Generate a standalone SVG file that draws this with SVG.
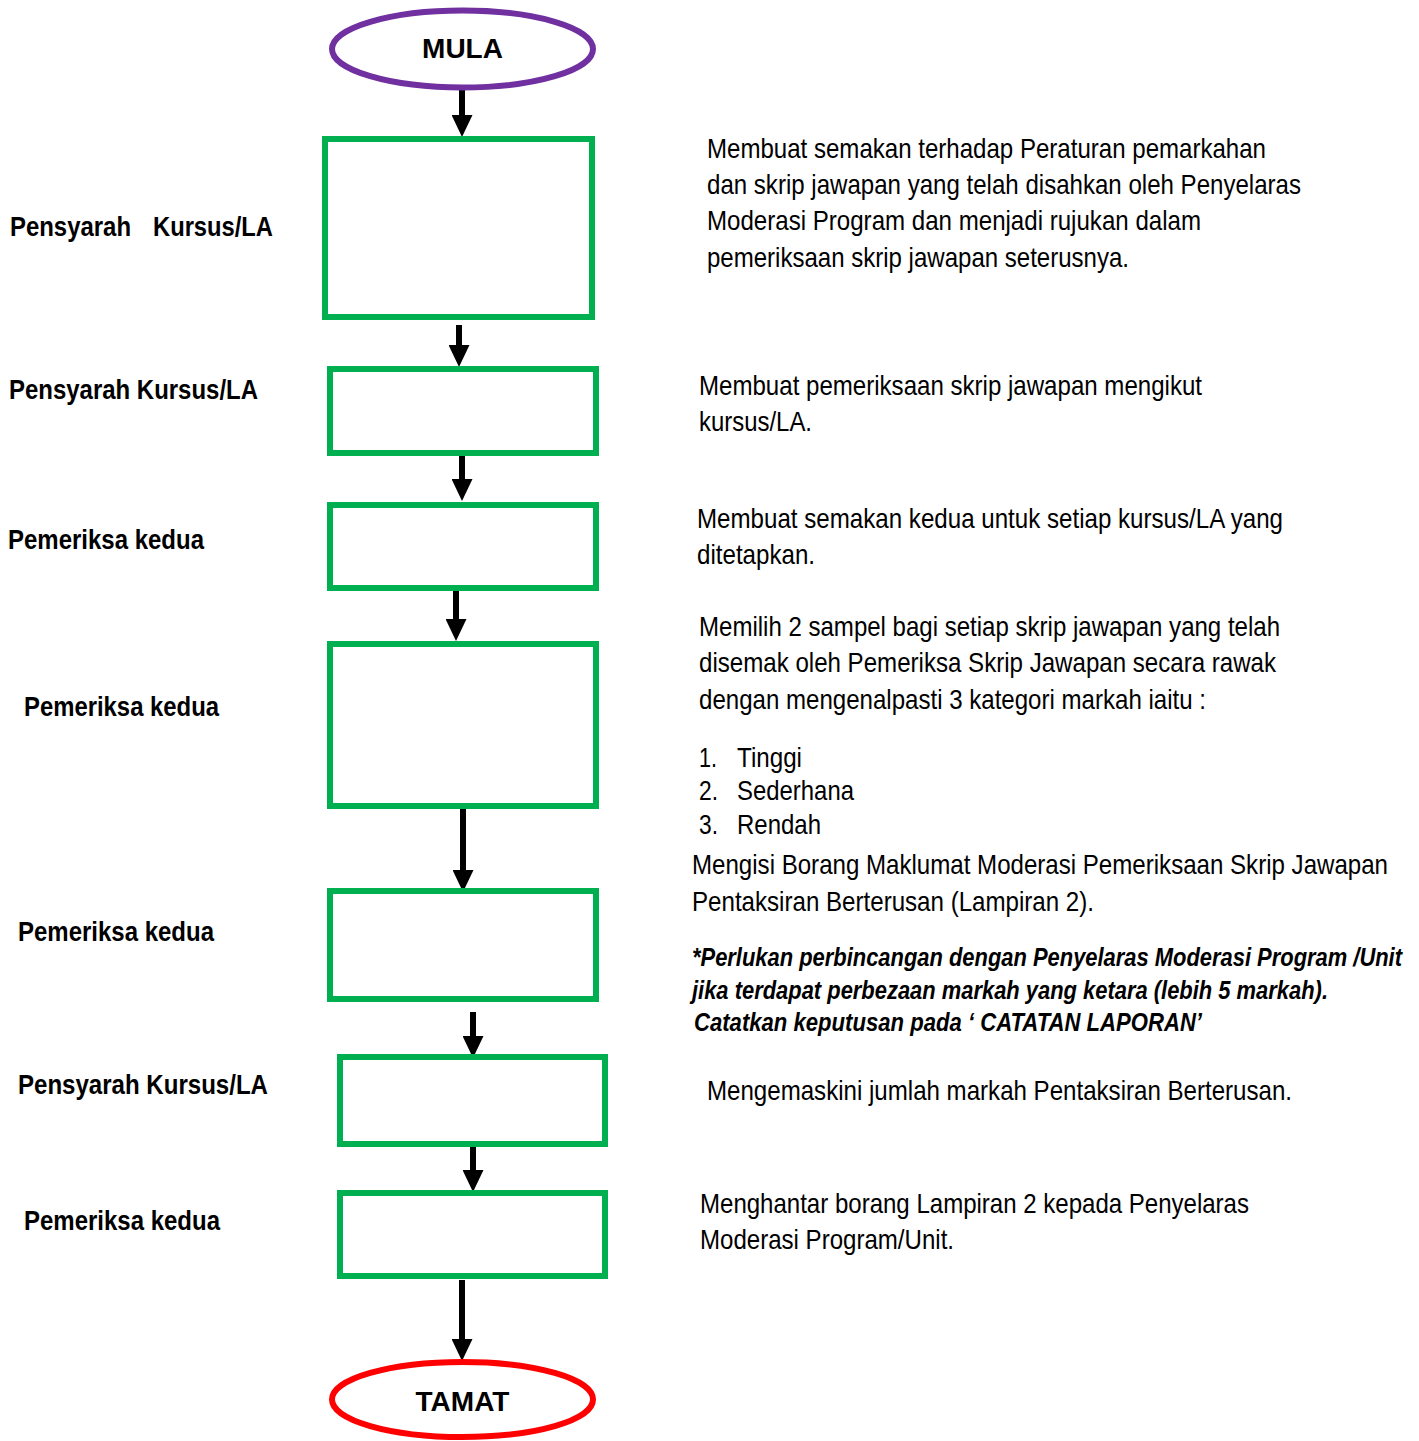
<svg xmlns="http://www.w3.org/2000/svg" width="1419" height="1441" viewBox="0 0 1419 1441">
<style>
.box{fill:#fff;stroke:#00B050;stroke-width:6}
.lbl{font-family:"Liberation Sans Narrow","Liberation Sans",Arial,sans-serif;font-weight:bold;font-size:28px;fill:#000}
.desc{font-family:"Liberation Sans Narrow","Liberation Sans",Arial,sans-serif;font-size:28px;fill:#000}
.note{font-family:"Liberation Sans Narrow","Liberation Sans",Arial,sans-serif;font-size:25px;font-weight:bold;font-style:italic;fill:#000}
.term{font-family:"Liberation Sans",Arial,sans-serif;font-weight:bold;font-size:28px;fill:#000}
.conn{stroke:#000;stroke-width:6;fill:none;marker-end:url(#ah)}
</style>
<defs>
<marker id="ah" markerUnits="userSpaceOnUse" viewBox="0 0 22 21" markerWidth="22" markerHeight="21" refX="4" refY="10.5" orient="auto">
<path d="M0,0 L22,10.5 L0,21 Z" fill="#000"/>
</marker>
</defs>
<rect width="1419" height="1441" fill="#fff"/>

<g id="connectors">
<line class="conn" x1="462" y1="90" x2="462" y2="119"/>
<line class="conn" x1="459" y1="325" x2="459" y2="349"/>
<line class="conn" x1="462" y1="451" x2="462" y2="483"/>
<line class="conn" x1="456" y1="591" x2="456" y2="623"/>
<line class="conn" x1="463" y1="808" x2="463" y2="874"/>
<line class="conn" x1="473" y1="1012" x2="473" y2="1040"/>
<line class="conn" x1="473" y1="1143" x2="473" y2="1174"/>
<line class="conn" x1="462" y1="1280" x2="462" y2="1343"/>
</g>

<g id="mula">
<ellipse cx="462.5" cy="49" rx="130.5" ry="38.5" fill="#fff" stroke="#7030A0" stroke-width="6"/>
<text class="term" x="462.5" y="58" text-anchor="middle">MULA</text>
</g>

<g id="step1">
<rect class="box" x="325" y="139" width="267" height="178"/>
<text class="lbl" x="10" y="236" textLength="121" lengthAdjust="spacingAndGlyphs">Pensyarah</text>
<text class="lbl" x="153" y="236" textLength="120" lengthAdjust="spacingAndGlyphs">Kursus/LA</text>
<text class="desc" x="707" y="158" textLength="559" lengthAdjust="spacingAndGlyphs">Membuat semakan terhadap Peraturan pemarkahan</text>
<text class="desc" x="707" y="194" textLength="594" lengthAdjust="spacingAndGlyphs">dan skrip jawapan yang telah disahkan oleh Penyelaras</text>
<text class="desc" x="707" y="230" textLength="494" lengthAdjust="spacingAndGlyphs">Moderasi Program dan menjadi rujukan dalam</text>
<text class="desc" x="707" y="267" textLength="422" lengthAdjust="spacingAndGlyphs">pemeriksaan skrip jawapan seterusnya.</text>
</g>

<g id="step2">
<rect class="box" x="330" y="369" width="266" height="84"/>
<text class="lbl" x="9" y="399" textLength="249" lengthAdjust="spacingAndGlyphs">Pensyarah Kursus/LA</text>
<text class="desc" x="699" y="395" textLength="503" lengthAdjust="spacingAndGlyphs">Membuat pemeriksaan skrip jawapan mengikut</text>
<text class="desc" x="699" y="431" textLength="113" lengthAdjust="spacingAndGlyphs">kursus/LA.</text>
</g>

<g id="step3">
<rect class="box" x="330" y="505" width="266" height="83"/>
<text class="lbl" x="8" y="549" textLength="196" lengthAdjust="spacingAndGlyphs">Pemeriksa kedua</text>
<text class="desc" x="697" y="528" textLength="586" lengthAdjust="spacingAndGlyphs">Membuat semakan kedua untuk setiap kursus/LA yang</text>
<text class="desc" x="697" y="564" textLength="118" lengthAdjust="spacingAndGlyphs">ditetapkan.</text>
</g>

<g id="step4">
<rect class="box" x="330" y="644" width="266" height="162"/>
<text class="lbl" x="24" y="716" textLength="195" lengthAdjust="spacingAndGlyphs">Pemeriksa kedua</text>
<text class="desc" x="699" y="636" textLength="581" lengthAdjust="spacingAndGlyphs">Memilih 2 sampel bagi setiap skrip jawapan yang telah</text>
<text class="desc" x="699" y="672" textLength="577" lengthAdjust="spacingAndGlyphs">disemak oleh Pemeriksa Skrip Jawapan secara rawak</text>
<text class="desc" x="699" y="709" textLength="507" lengthAdjust="spacingAndGlyphs">dengan mengenalpasti 3 kategori markah iaitu :</text>
<text class="desc" x="699" y="767" textLength="18" lengthAdjust="spacingAndGlyphs">1.</text>
<text class="desc" x="737" y="767" textLength="65" lengthAdjust="spacingAndGlyphs">Tinggi</text>
<text class="desc" x="699" y="800" textLength="19" lengthAdjust="spacingAndGlyphs">2.</text>
<text class="desc" x="737" y="800" textLength="117" lengthAdjust="spacingAndGlyphs">Sederhana</text>
<text class="desc" x="699" y="834" textLength="19" lengthAdjust="spacingAndGlyphs">3.</text>
<text class="desc" x="737" y="834" textLength="84" lengthAdjust="spacingAndGlyphs">Rendah</text>
</g>

<g id="step5">
<rect class="box" x="330" y="891" width="266" height="108"/>
<text class="lbl" x="18" y="941" textLength="196" lengthAdjust="spacingAndGlyphs">Pemeriksa kedua</text>
<text class="desc" x="692" y="874" textLength="696" lengthAdjust="spacingAndGlyphs">Mengisi Borang Maklumat Moderasi Pemeriksaan Skrip Jawapan</text>
<text class="desc" x="692" y="911" textLength="402" lengthAdjust="spacingAndGlyphs">Pentaksiran Berterusan (Lampiran 2).</text>
<text class="note" x="692" y="966" textLength="710" lengthAdjust="spacingAndGlyphs">*Perlukan perbincangan dengan Penyelaras Moderasi Program /Unit</text>
<text class="note" x="692" y="999" textLength="636" lengthAdjust="spacingAndGlyphs">jika terdapat perbezaan markah yang ketara (lebih 5 markah).</text>
<text class="note" x="694" y="1031" textLength="508" lengthAdjust="spacingAndGlyphs">Catatkan keputusan pada ‘ CATATAN LAPORAN’</text>
</g>

<g id="step6">
<rect class="box" x="340" y="1057" width="265" height="87"/>
<text class="lbl" x="18" y="1094" textLength="250" lengthAdjust="spacingAndGlyphs">Pensyarah Kursus/LA</text>
<text class="desc" x="707" y="1100" textLength="585" lengthAdjust="spacingAndGlyphs">Mengemaskini jumlah markah Pentaksiran Berterusan.</text>
</g>

<g id="step7">
<rect class="box" x="340" y="1193" width="265" height="83"/>
<text class="lbl" x="24" y="1230" textLength="196" lengthAdjust="spacingAndGlyphs">Pemeriksa kedua</text>
<text class="desc" x="700" y="1213" textLength="549" lengthAdjust="spacingAndGlyphs">Menghantar borang Lampiran 2 kepada Penyelaras</text>
<text class="desc" x="700" y="1249" textLength="254" lengthAdjust="spacingAndGlyphs">Moderasi Program/Unit.</text>
</g>

<g id="tamat">
<ellipse cx="462.5" cy="1399.5" rx="130.5" ry="37.5" fill="#fff" stroke="#FF0000" stroke-width="6"/>
<text class="term" x="462.5" y="1411" text-anchor="middle">TAMAT</text>
</g>
</svg>
